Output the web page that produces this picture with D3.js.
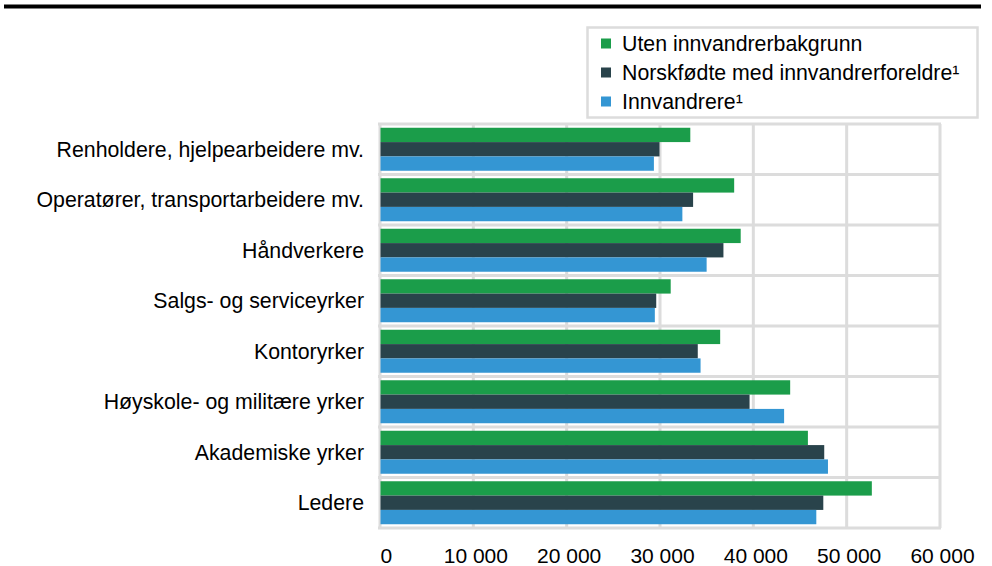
<!DOCTYPE html>
<html lang="no">
<head>
<meta charset="utf-8">
<script src="https://cdn.jsdelivr.net/npm/d3@7"></script>
<style>
  html, body { margin: 0; padding: 0; background: #fff; }
  svg { display: block; font-family: "Liberation Sans", Arial, sans-serif; }
</style>
</head>
<body>
<svg id="chart" width="992" height="566"></svg>
<script>
// Occupational groups, top to bottom
const categories = [
  "Renholdere, hjelpearbeidere mv.",
  "Operatører, transportarbeidere mv.",
  "Håndverkere",
  "Salgs- og serviceyrker",
  "Kontoryrker",
  "Høyskole- og militære yrker",
  "Akademiske yrker",
  "Ledere"
];

const seriesNames = [
  "Uten innvandrerbakgrunn",
  "Norskfødte med innvandrerforeldre¹",
  "Innvandrere¹"
];

// Monthly earnings (NOK) per group, one array per population group
const utenInnvandrerbakgrunn = [33300, 38000, 38700, 31200, 36500, 44000, 45900, 52750];
const norskfodteMedInnvandrerforeldre = [30000, 33600, 36850, 29650, 34100, 39650, 47650, 47550];
const innvandrere = [29400, 32450, 35050, 29500, 34400, 43350, 48050, 46800];

const xTicks = [0, 10000, 20000, 30000, 40000, 50000, 60000];

const seriesValues = [utenInnvandrerbakgrunn, norskfodteMedInnvandrerforeldre, innvandrere];
const colors = ["#1b9d4a", "#29434b", "#3496d3"];

const svg = d3.select("#chart");
const gridColor = "#dcdcdc";
const labelSize = 21.3;

const plot = { left: 379.5, right: 939.5, top: 124, bottom: 528 };

const x = d3.scaleLinear().domain([0, 60000]).range([plot.left, plot.right]);
const y = d3.scaleBand().domain(categories).range([plot.top, plot.bottom]).padding(0);
const yInner = d3.scaleBand().domain(d3.range(seriesNames.length))
  .range([0, y.bandwidth()]).paddingInner(0).paddingOuter(0.262);

const nb = d3.formatLocale({ decimal: ",", thousands: " ", grouping: [3], currency: ["", ""] });
const fmt = nb.format(",d");

// Rule across the top of the figure
svg.append("line")
  .attr("x1", 4).attr("x2", 981)
  .attr("y1", 6.5).attr("y2", 6.5)
  .attr("stroke", "#000").attr("stroke-width", 4);

// Vertical gridlines
const grid = svg.append("g")
  .attr("transform", `translate(0,${plot.bottom})`)
  .call(d3.axisBottom(x).tickValues(xTicks).tickSize(-(plot.bottom - plot.top)).tickFormat(""));
grid.select(".domain").remove();
grid.selectAll(".tick line").attr("stroke", gridColor).attr("stroke-width", 3);

// Horizontal separators between groups (including top and bottom borders)
const seps = categories.map(c => y(c)).concat([plot.bottom]);
svg.append("g").selectAll("line").data(seps).join("line")
  .attr("x1", plot.left - 1.5).attr("x2", plot.right + 1.5)
  .attr("y1", d => d).attr("y2", d => d)
  .attr("stroke", gridColor).attr("stroke-width", 3);

// Bars
const groups = svg.append("g").selectAll("g").data(categories).join("g")
  .attr("transform", c => `translate(0,${y(c)})`);

groups.selectAll("rect")
  .data((c, ci) => seriesValues.map((vals, si) => ({ si, v: vals[ci] })))
  .join("rect")
  .attr("x", x(0) + 1)
  .attr("y", d => yInner(d.si))
  .attr("width", d => x(d.v) - x(0) - 1)
  .attr("height", yInner.bandwidth())
  .attr("fill", d => colors[d.si]);

// Category labels
svg.append("g").selectAll("text").data(categories).join("text")
  .attr("x", 364)
  .attr("y", c => y(c) + y.bandwidth() / 2)
  .attr("dy", "0.35em")
  .attr("text-anchor", "end")
  .attr("font-size", labelSize)
  .attr("fill", "#000")
  .text(c => c);

// X axis tick labels (first label kept inside the plot's left edge)
const xAxis = svg.append("g")
  .attr("transform", `translate(0,${plot.bottom})`)
  .call(d3.axisBottom(x).tickValues(xTicks).tickSize(0).tickPadding(20).tickFormat(fmt));
xAxis.select(".domain").remove();
xAxis.selectAll("text")
  .attr("font-size", 21)
  .attr("font-family", "'Liberation Sans', Arial, sans-serif")
  .attr("fill", "#000")
  .attr("dx", 2.5)
  .attr("text-anchor", d => d === 0 ? "start" : "middle")
  .attr("dx", d => d === 0 ? 0.5 : 2.5);

// Legend
const legend = svg.append("g");
legend.append("rect")
  .attr("x", 587.5).attr("y", 27.5)
  .attr("width", 390).attr("height", 90)
  .attr("fill", "#fff").attr("stroke", gridColor).attr("stroke-width", 2.5);

const legendRows = legend.selectAll("g").data(seriesNames).join("g")
  .attr("transform", (d, i) => `translate(601,${43.5 + i * 29})`);
legendRows.append("rect")
  .attr("x", 0).attr("y", -5).attr("width", 10).attr("height", 10)
  .attr("fill", (d, i) => colors[i]);
legendRows.append("text")
  .attr("x", 21).attr("y", 0).attr("dy", "0.35em")
  .attr("font-size", labelSize).attr("fill", "#000")
  .text(d => d);
</script>
</body>
</html>
